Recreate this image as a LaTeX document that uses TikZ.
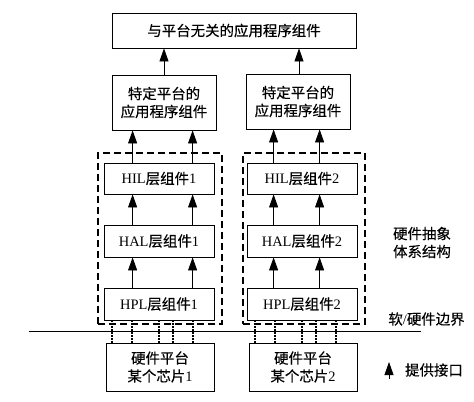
\documentclass[tikz,border=0pt]{standalone}
\usepackage{fontspec}
\setmainfont{Liberation Serif}
\newfontfamily\cjk[FakeBold=0.4]{Noto Sans CJK SC}
\usetikzlibrary{arrows.meta}

\begin{document}
\begin{tikzpicture}[x=1bp,y=-1bp,
  txt/.style={align=center,inner sep=0pt,font=\fontsize{14.5}{18}\selectfont},
  box/.style={txt,draw,line width=.8bp},
  arr/.style={-{Triangle[length=13bp,width=9bp]},line width=.8bp},
  grp/.style={draw,line width=1.6bp,dash pattern=on 7bp off 4bp},
  pin/.style={line width=1.8bp,dash pattern=on 1.6bp off 1.4bp}]
\useasboundingbox (0,0) rectangle (474,401);
% software side
\node[box,minimum width=244bp,minimum height=35bp] (app) at (234,30.5) {\cjk 与平台无关的应用程序组件};
\node[box,minimum width=104bp,minimum height=55bp] (p1) at (164,102.5) {\cjk 特定平台的\\\cjk 应用程序组件};
\node[box,minimum width=104bp,minimum height=55bp] (p2) at (298,101.5) {\cjk 特定平台的\\\cjk 应用程序组件};
\node[grp,minimum width=124bp,minimum height=171bp] (g1) at (160,238.5) {};
\node[grp,minimum width=122bp,minimum height=171bp] (g2) at (304,238.5) {};
\node[box,minimum width=110bp,minimum height=31bp] (hil1) at (159,178.5) {HIL{\cjk 层组件}1};
\node[box,minimum width=110bp,minimum height=31bp] (hil2) at (302,178.5) {HIL{\cjk 层组件}2};
\node[box,minimum width=110bp,minimum height=32bp] (hal1) at (159,241) {HAL{\cjk 层组件}1};
\node[box,minimum width=110bp,minimum height=32bp] (hal2) at (302,241) {HAL{\cjk 层组件}2};
\node[box,minimum width=110bp,minimum height=32bp] (hpl1) at (159,304) {HPL{\cjk 层组件}1};
\node[box,minimum width=110bp,minimum height=32bp] (hpl2) at (302,304) {HPL{\cjk 层组件}2};
% hardware side
\node[box,minimum width=108bp,minimum height=48bp] (hw1) at (160,367) {\cjk 硬件平台\\\cjk 某个芯片{\rmfamily 1}};
\node[box,minimum width=108bp,minimum height=48bp] (hw2) at (303,367) {\cjk 硬件平台\\\cjk 某个芯片{\rmfamily 2}};
\coordinate (b0) at (29,331);
\coordinate (b1) at (421,331);
\draw[line width=.8bp] (b0) -- (b1);
\node[txt] (hal) at (422,242.5) {\cjk 硬件抽象\\\cjk 体系结构};
\node[txt] (bnd) at (426.5,319) {{\cjk 软}/{\cjk 硬件边界}};
\node[txt] (lgt) at (434,370) {\cjk 提供接口};
\coordinate (lg0) at (389,379);
\coordinate (lg1) at (389,362);
\draw[arr] (lg0) -- (lg1);
% arrows
\draw[arr] (p1.north) -- (p1.north |- app.south);
\draw[arr] ([xshift=1bp]p2.north) -- ([xshift=1bp]p2.north |- app.south);
\foreach \n/\a/\b in {1/29bp/89bp,2/27bp/73bp} {
  \draw[arr] ([xshift=\a]hil\n.north west) -- ([xshift=\a]hil\n.north west |- p\n.south);
  \draw[arr] ([xshift=\b]hil\n.north west) -- ([xshift=\b]hil\n.north west |- p\n.south);
  \draw[arr] ([xshift=\a]hal\n.north west) -- ([xshift=\a]hal\n.north west |- hil\n.south);
  \draw[arr] ([xshift=\b]hal\n.north west) -- ([xshift=\b]hal\n.north west |- hil\n.south);
  \draw[arr] ([xshift=\a]hpl\n.north west) -- ([xshift=\a]hpl\n.north west |- hal\n.south);
  \draw[arr] ([xshift=\b]hpl\n.north west) -- ([xshift=\b]hpl\n.north west |- hal\n.south);
}
% chip pins
\foreach \n in {1,2}
  \foreach \d in {6,26,53,67,87}
    \draw[pin] ([xshift=\d bp]hw\n.north west) -- ([xshift=\d bp]hw\n.north west |- hpl\n.south);
\end{tikzpicture}
\end{document}
